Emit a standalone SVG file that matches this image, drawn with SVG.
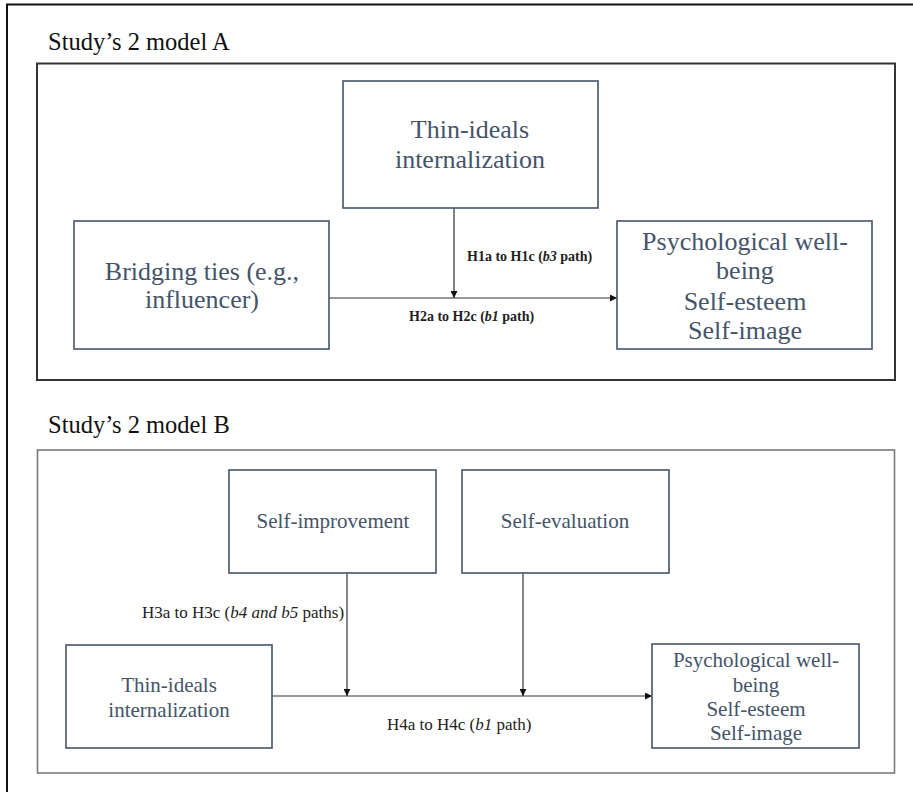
<svg xmlns="http://www.w3.org/2000/svg" width="913" height="792" viewBox="0 0 913 792">
<style>
  text { font-family: "Liberation Serif", Tinos, "Times New Roman", "DejaVu Serif", serif; }
  .title { font-size: 24.5px; fill: #111111; }
  .node rect { fill: #ffffff; stroke: #44546a; stroke-width: 1.6; }
  .na { font-size: 26px; fill: #44546a; text-anchor: middle; }
  .nb { font-size: 21px; fill: #44546a; text-anchor: middle; }
  .la { font-size: 14px; font-weight: bold; fill: #222222; }
  .lb { font-size: 17px; fill: #222222; }
  .conn line { stroke: #333333; stroke-width: 1.2; fill: none; }
</style>
<defs>
  <marker id="arr" markerWidth="8" markerHeight="7" refX="7" refY="3.5" orient="auto" markerUnits="userSpaceOnUse">
    <path d="M0,0 L7,3.5 L0,7 Z" fill="#111111"/>
  </marker>
</defs>
<rect x="0" y="0" width="913" height="792" fill="#ffffff"/>
<rect x="7" y="4.5" width="930" height="820" fill="none" stroke="#111111" stroke-width="2"/>

<g id="modelA">
  <text class="title" x="48" y="50">Study’s 2 model A</text>
  <rect x="37" y="63.5" width="858" height="316.5" fill="none" stroke="#333333" stroke-width="2"/>
</g>

<g id="modelB">
  <text class="title" x="48" y="433">Study’s 2 model B</text>
  <rect x="37.5" y="450" width="857" height="323" fill="none" stroke="#7a7a7a" stroke-width="1.6"/>
</g>

<g id="conn" class="conn">
  <line x1="454" y1="208" x2="454" y2="298" marker-end="url(#arr)"/>
  <line x1="329" y1="298" x2="617" y2="298" marker-end="url(#arr)"/>
  <line x1="347" y1="573" x2="347" y2="696" marker-end="url(#arr)"/>
  <line x1="523" y1="573" x2="523" y2="696" marker-end="url(#arr)"/>
  <line x1="272" y1="696" x2="652" y2="696" marker-end="url(#arr)"/>
</g>

<g id="labels">
  <text class="la" x="467" y="261">H1a to H1c (<tspan font-style="italic">b3</tspan> path)</text>
  <text class="la" x="409" y="321">H2a to H2c (<tspan font-style="italic">b1</tspan> path)</text>
  <text class="lb" x="142" y="618">H3a to H3c (<tspan font-style="italic">b4 and b5</tspan> paths)</text>
  <text class="lb" x="387" y="730">H4a to H4c (<tspan font-style="italic">b1</tspan> path)</text>
</g>

<g id="nodeA_thin" class="node">
  <rect x="343" y="81" width="255" height="127"/>
  <text class="na" x="470" y="138">Thin-ideals</text>
  <text class="na" x="470" y="168">internalization</text>
</g>

<g id="nodeA_bridging" class="node">
  <rect x="74" y="221" width="255" height="128"/>
  <text class="na" x="202" y="280">Bridging ties (e.g.,</text>
  <text class="na" x="202" y="308">influencer)</text>
</g>

<g id="nodeA_psych" class="node">
  <rect x="617" y="221" width="255" height="128"/>
  <text class="na" x="745" y="250">Psychological well-</text>
  <text class="na" x="745" y="279">being</text>
  <text class="na" x="745" y="310">Self-esteem</text>
  <text class="na" x="745" y="339">Self-image</text>
</g>

<g id="nodeB_improve" class="node">
  <rect x="229" y="470" width="207" height="103"/>
  <text class="nb" x="333" y="528">Self-improvement</text>
</g>

<g id="nodeB_eval" class="node">
  <rect x="462" y="470" width="207" height="103"/>
  <text class="nb" x="565" y="528">Self-evaluation</text>
</g>

<g id="nodeB_thin" class="node">
  <rect x="66" y="645" width="206" height="103"/>
  <text class="nb" x="169" y="692">Thin-ideals</text>
  <text class="nb" x="169" y="717">internalization</text>
</g>

<g id="nodeB_psych" class="node">
  <rect x="652" y="644" width="207" height="104"/>
  <text class="nb" x="756" y="667">Psychological well-</text>
  <text class="nb" x="756" y="692">being</text>
  <text class="nb" x="756" y="716">Self-esteem</text>
  <text class="nb" x="756" y="740">Self-image</text>
</g>
</svg>
